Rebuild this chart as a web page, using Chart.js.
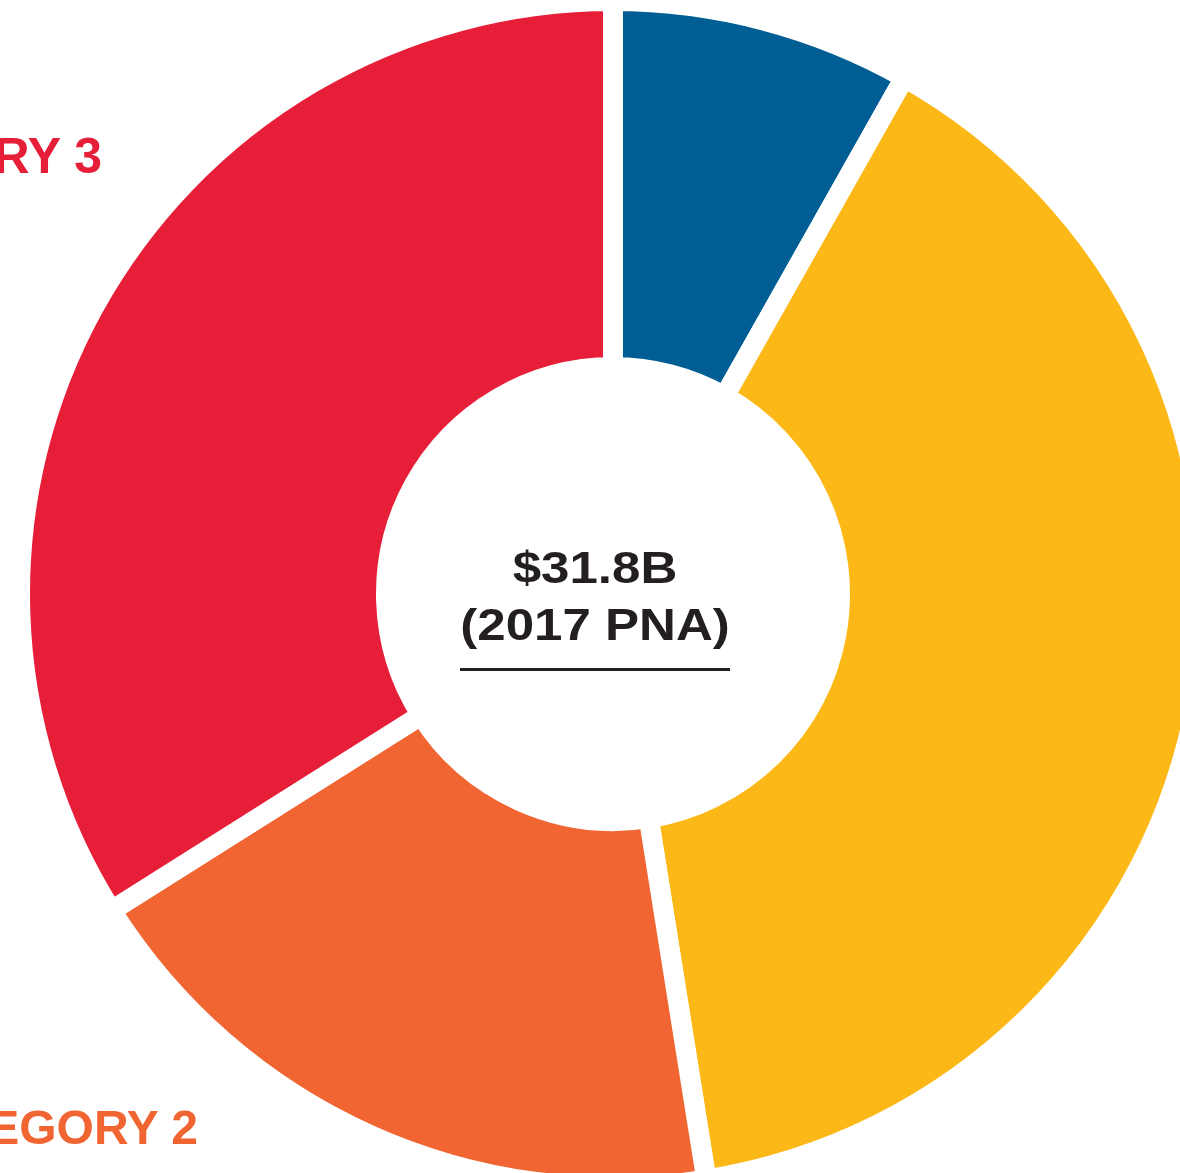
<!DOCTYPE html>
<html>
<head>
<meta charset="utf-8">
<script src="https://cdn.jsdelivr.net/npm/chart.js@4.4.1/dist/chart.umd.min.js"></script>
<style>
    html, body {
        margin: 0;
        padding: 0;
        background: #fff;
    }
    #stage {
        position: relative;
        width: 1180px;
        height: 1173px;
        overflow: hidden;
        background: #fff;
        font-family: "Liberation Sans", Arial, Helvetica, sans-serif;
        font-weight: bold;
    }
    #donut {
        position: absolute;
        left: 10px;
        top: -9px;
    }
    .total {
        position: absolute;
        left: 395px;
        width: 400px;
        text-align: center;
        font-size: 44px;
        line-height: 44px;
        color: #231f20;
        transform: scaleX(1.16);
        white-space: nowrap;
    }
    .rule {
        position: absolute;
        left: 460px;
        top: 668px;
        width: 270px;
        height: 2.5px;
        background: #231f20;
    }
    .label {
        position: absolute;
        text-align: right;
        white-space: nowrap;
    }
</style>
</head>
<body>
<div id="stage">
    <canvas id="donut" width="1206" height="1206"></canvas>
    <div class="total" style="top: 546px;">$31.8B</div>
    <div class="total" style="top: 603px;">(2017 PNA)</div>
    <div class="rule"></div>
    <div class="label" style="left: -400px; width: 502px; top: 131px; font-size: 50px; line-height: 50px; color: #e71e38;">CATEGORY 3</div>
    <div class="label" style="left: -400px; width: 598px; top: 1104px; font-size: 48px; line-height: 48px; color: #f06532;">CATEGORY 2</div>
</div>
<script>
// Funding split, clockwise from 12 o'clock ($ billions)
const categories = ['CATEGORY 4', 'CATEGORY 1', 'CATEGORY 2', 'CATEGORY 3'];
const values = [2.6, 12.5, 5.9, 10.8];
const colors = ['#005e95', '#fbb817', '#f06532', '#e71e38'];

new Chart(document.getElementById('donut'), {
    type: 'doughnut',
    data: {
        labels: categories,
        datasets: [{
            data: values,
            backgroundColor: colors,
            borderColor: '#fff',
            borderWidth: 20,
            hoverOffset: 0
        }]
    },
    options: {
        responsive: false,
        animation: false,
        cutout: '38.28%',
        events: [],
        layout: { padding: 0 },
        plugins: {
            legend: { display: false },
            tooltip: { enabled: false }
        }
    }
});
</script>
</body>
</html>
